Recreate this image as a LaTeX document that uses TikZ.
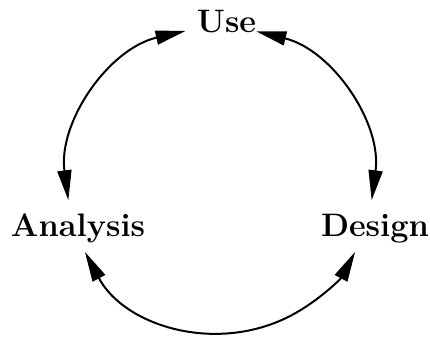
\documentclass[tikz,border=0pt]{standalone}
\usetikzlibrary{arrows.meta}
\begin{document}
\begin{tikzpicture}[x=1pt,y=1pt,
  phase/.style={font=\fontsize{32.5}{38}\selectfont\bfseries, inner sep=0pt, anchor=base},
  cyclearc/.style={line width=2pt,
    {Triangle[length=30pt,width=14pt]}-{Triangle[length=30pt,width=14pt]}}]
\useasboundingbox (0,0) rectangle (430,340);
% centre of the life cycle
\coordinate (c) at (220,160);
% phases
\node[phase] (use) at (226.5,307) {Use};
\node[phase] (analysis) at (78,103.3) {Analysis};
\node[phase] (design) at (375,103.3) {Design};
% arc end points
\coordinate (use-l) at ([shift={(103:153pt)}]c);
\coordinate (use-r) at ([shift={(76.3:153pt)}]c);
\coordinate (analysis-t) at ([shift={(187.6:153pt)}]c);
\coordinate (analysis-b) at ([shift={(208:153pt)}]c);
\coordinate (design-t) at ([shift={(-7.6:153pt)}]c);
\coordinate (design-b) at ([shift={(-28:153pt)}]c);
% connectors
\draw[cyclearc] (use-l) arc[start angle=103, end angle=187.6, radius=153pt];
\draw[cyclearc] (use-r) arc[start angle=76.3, end angle=-7.6, radius=153pt];
\draw[cyclearc] (analysis-b) arc[start angle=208, end angle=332, radius=153pt];
\end{tikzpicture}
\end{document}
